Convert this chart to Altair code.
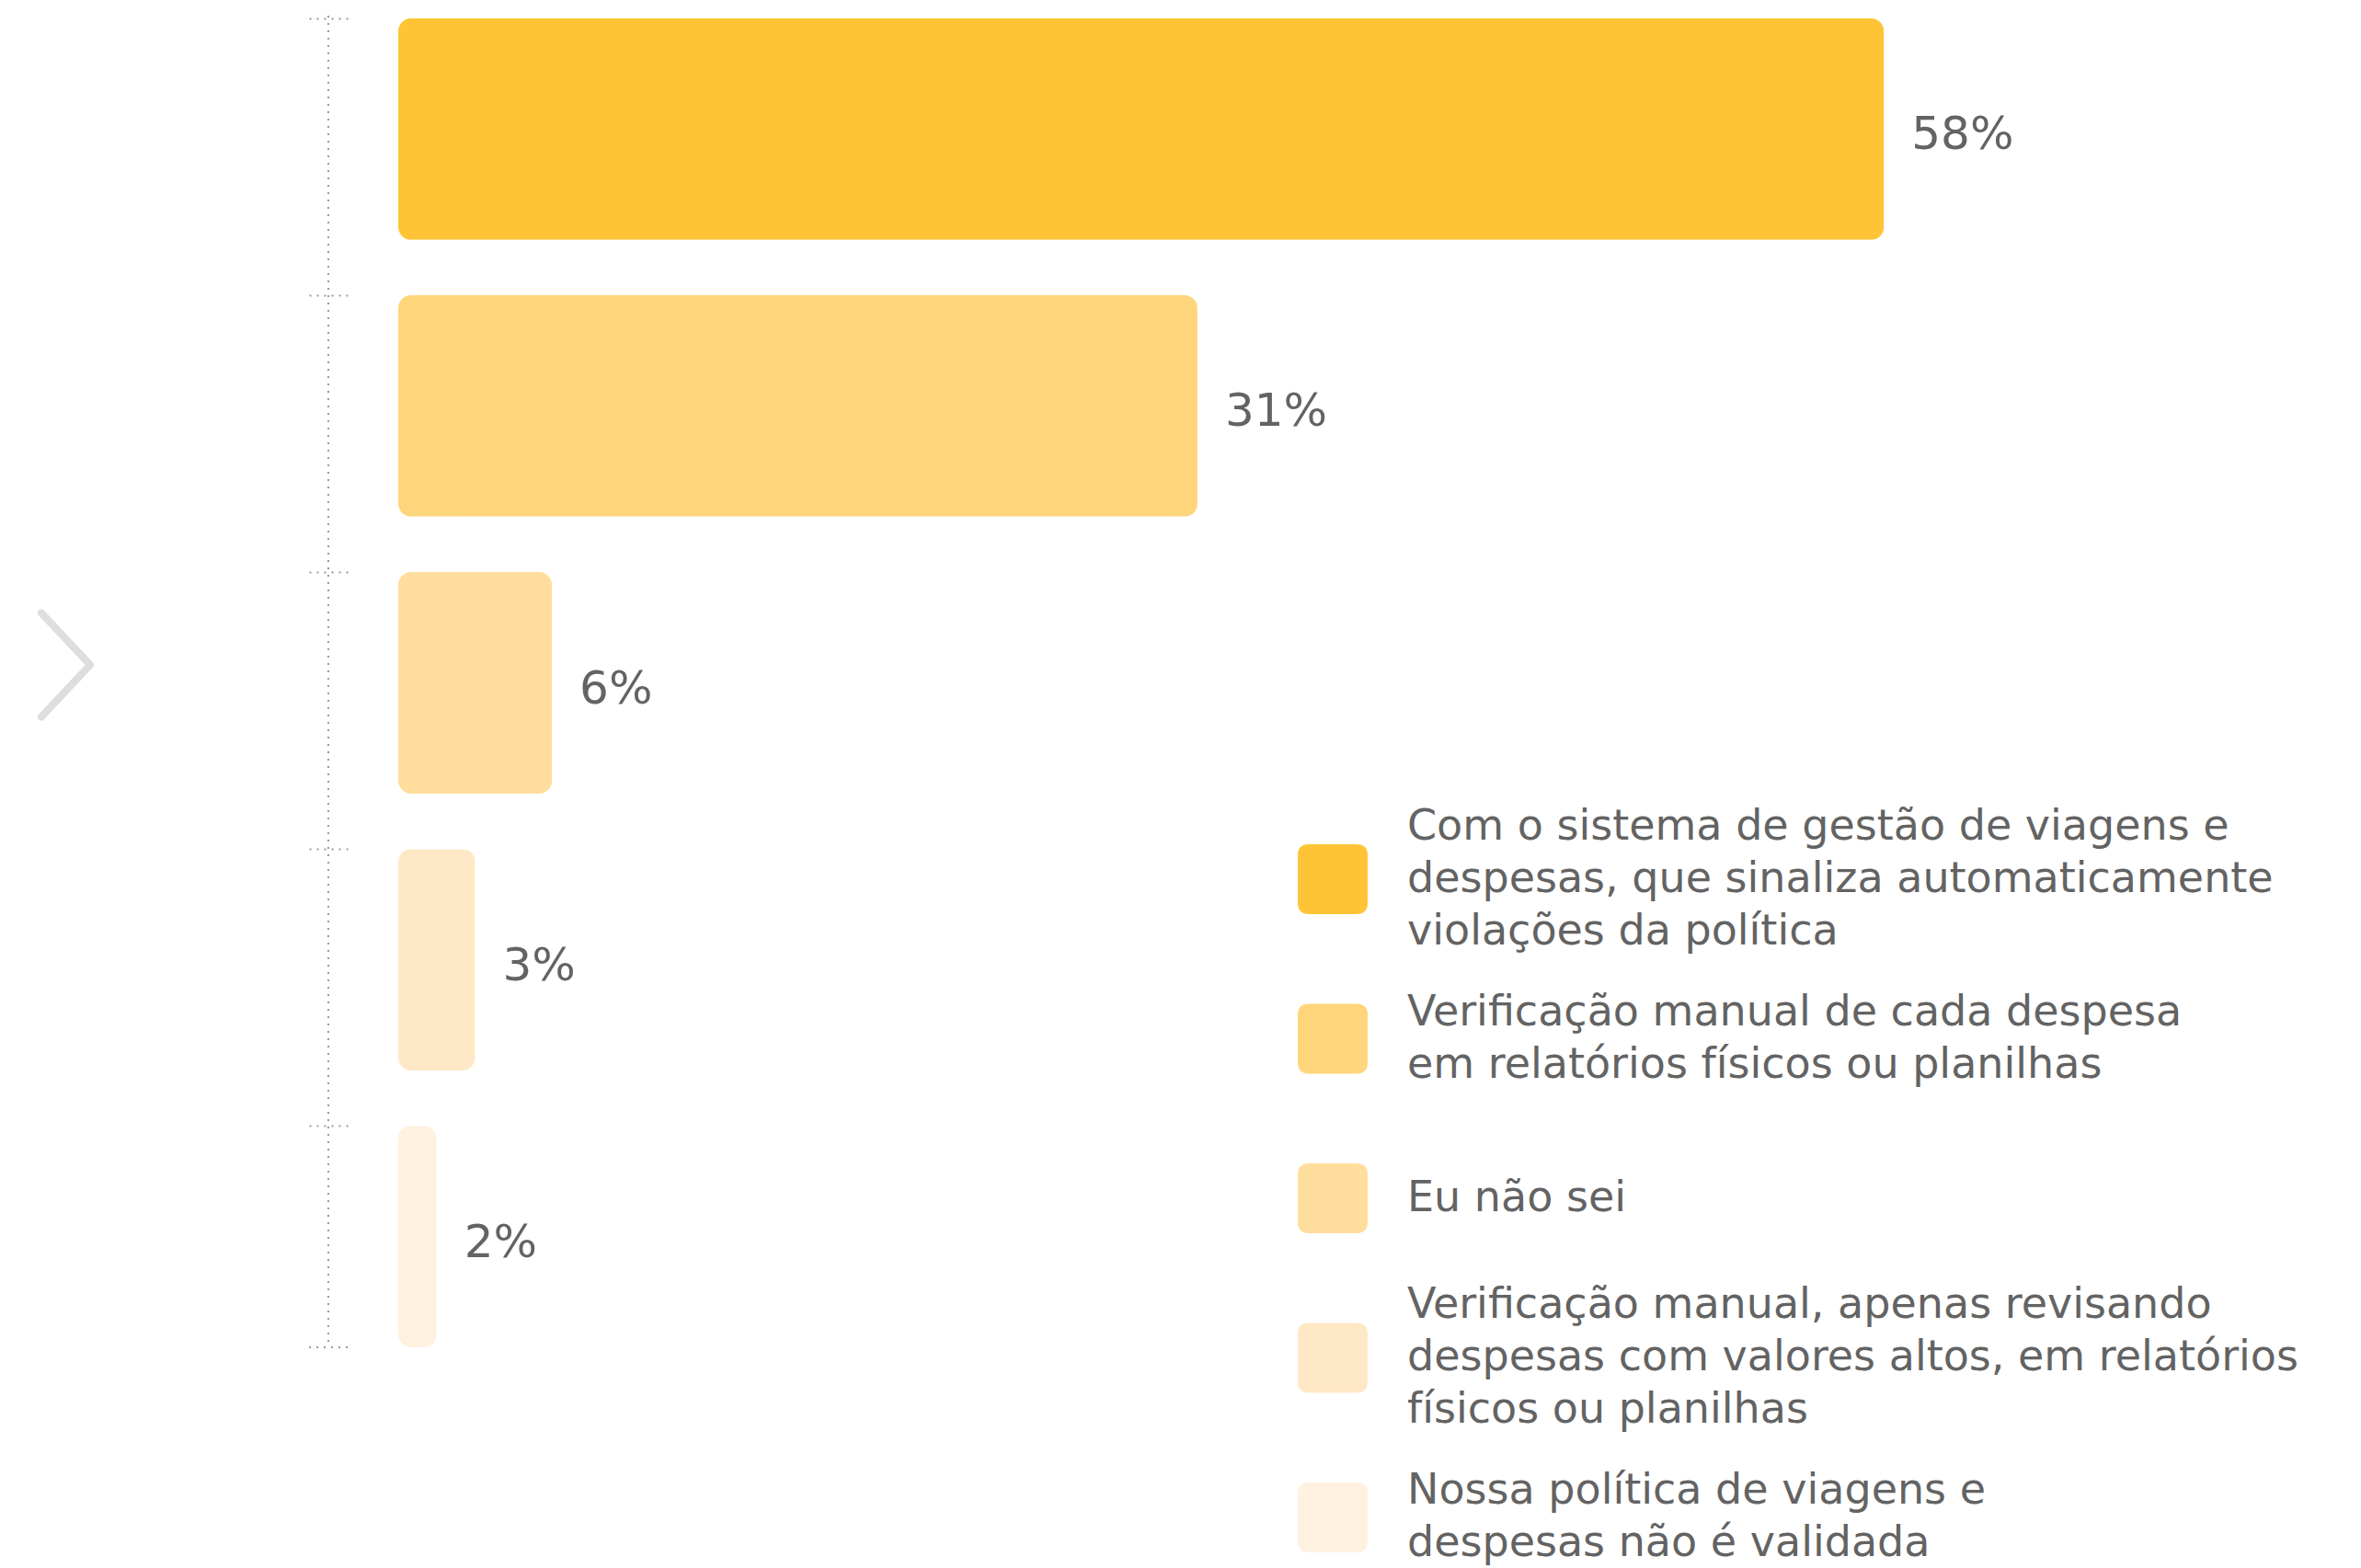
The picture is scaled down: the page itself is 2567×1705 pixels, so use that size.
import altair as alt
import pandas as pd

# ---- data ----
categories = [
    "Com o sistema de gestão de viagens e\ndespesas, que sinaliza automaticamente\nviolações da política",
    "Verificação manual de cada despesa\nem relatórios físicos ou planilhas",
    "Eu não sei",
    "Verificação manual, apenas revisando\ndespesas com valores altos, em relatórios\nfísicos ou planilhas",
    "Nossa política de viagens e\ndespesas não é validada",
]
values = [58, 31.2, 6, 3, 1.5]
value_labels = ["58%", "31%", "6%", "3%", "2%"]
colors = ["#FEC435", "#FED57B", "#FFDE9D", "#FFE8C5", "#FFF1E0"]

FONT = "DejaVu Sans"
TEXT_COLOR = "#636363"
AXIS_COLOR = "#9a9a9a"

W, H = 1671, 1445
LEG_STEP_PX = 173.5
LINE_H = 57

df = pd.DataFrame({"cat": categories, "value": values, "label": value_labels})
leg = pd.DataFrame({"cat": categories, "idx": list(range(len(categories)))})
one = pd.DataFrame({"k": [0]})

color = alt.Color("cat:N", scale=alt.Scale(domain=categories, range=colors), legend=None)
y_band = alt.Y(
    "cat:N",
    sort=categories,
    scale=alt.Scale(paddingInner=0.2, paddingOuter=0),
    axis=alt.Axis(
        title=None, labels=False, domain=False, grid=False,
        ticks=True, tickSize=42, tickColor=AXIS_COLOR, tickWidth=2,
        tickDash=[2, 6], offset=55, bandPosition=0,
    ),
)

bars = alt.Chart(df).mark_bar(cornerRadius=14).encode(
    x=alt.X("value:Q", scale=alt.Scale(domain=[0, 60], nice=False), axis=None),
    y=y_band,
    color=color,
)
labels = alt.Chart(df).mark_text(
    align="left", baseline="middle", dx=30, dy=7,
    font=FONT, fontSize=50, color=TEXT_COLOR,
).encode(
    x="value:Q",
    y=alt.Y("cat:N", sort=categories),
    text="label:N",
)
bar_group = alt.layer(bars, labels)

# dotted axis spine and closing tick
spine = alt.Chart(one).mark_rule(
    color=AXIS_COLOR, strokeWidth=2, strokeDash=[2, 6]
).encode(x=alt.value(-76), y=alt.value(-3), y2=alt.value(H))
end_tick = alt.Chart(one).mark_rule(
    color=AXIS_COLOR, strokeWidth=2, strokeDash=[2, 6]
).encode(x=alt.value(-97), x2=alt.value(-55), y=alt.value(H))

# chevron
chevron = alt.Chart(one).mark_point(
    shape="M-0.47,-1L0.47,0L-0.47,1", size=12769, filled=False,
    strokeWidth=8, color="#dedede", opacity=1, strokeCap="round", strokeJoin="round",
).encode(x=alt.value(-361.5), y=alt.value(703))

# legend
leg_scale = alt.Scale(domain=[-5.395, 2.934], reverse=True, nice=False, zero=False)
rsq = "M-1,-0.68Q-1,-1,-0.68,-1L0.68,-1Q1,-1,1,-0.68L1,0.68Q1,1,0.68,1L-0.68,1Q-1,1,-1,0.68Z"
swatches = alt.Chart(leg).mark_point(shape=rsq, size=5776, filled=True, opacity=1).encode(
    x=alt.value(1016), y=alt.Y("idx:Q", scale=leg_scale, axis=None), color=color,
)
leg_text = alt.Chart(leg).transform_calculate(
    ty=f"datum.idx - (length(split(datum.cat, '\\n')) - 1) * {LINE_H / 2 / LEG_STEP_PX}"
).mark_text(
    align="left", baseline="middle", lineBreak="\n", lineHeight=LINE_H,
    font=FONT, fontSize=46, color=TEXT_COLOR,
).encode(x=alt.value(1097), y=alt.Y("ty:Q", scale=leg_scale, axis=None), text="cat:N")
legend_group = alt.layer(swatches, leg_text)

chart = alt.layer(bar_group, spine, end_tick, chevron, legend_group).resolve_scale(
    y="independent"
).properties(
    width=W, height=H,
    autosize=alt.AutoSizeParams(type="none"),
    padding={"left": 425, "top": 12, "right": 444, "bottom": 238},
).configure_view(stroke=None)

chart.save("out.html", embed_options={"renderer": "svg", "actions": False})
